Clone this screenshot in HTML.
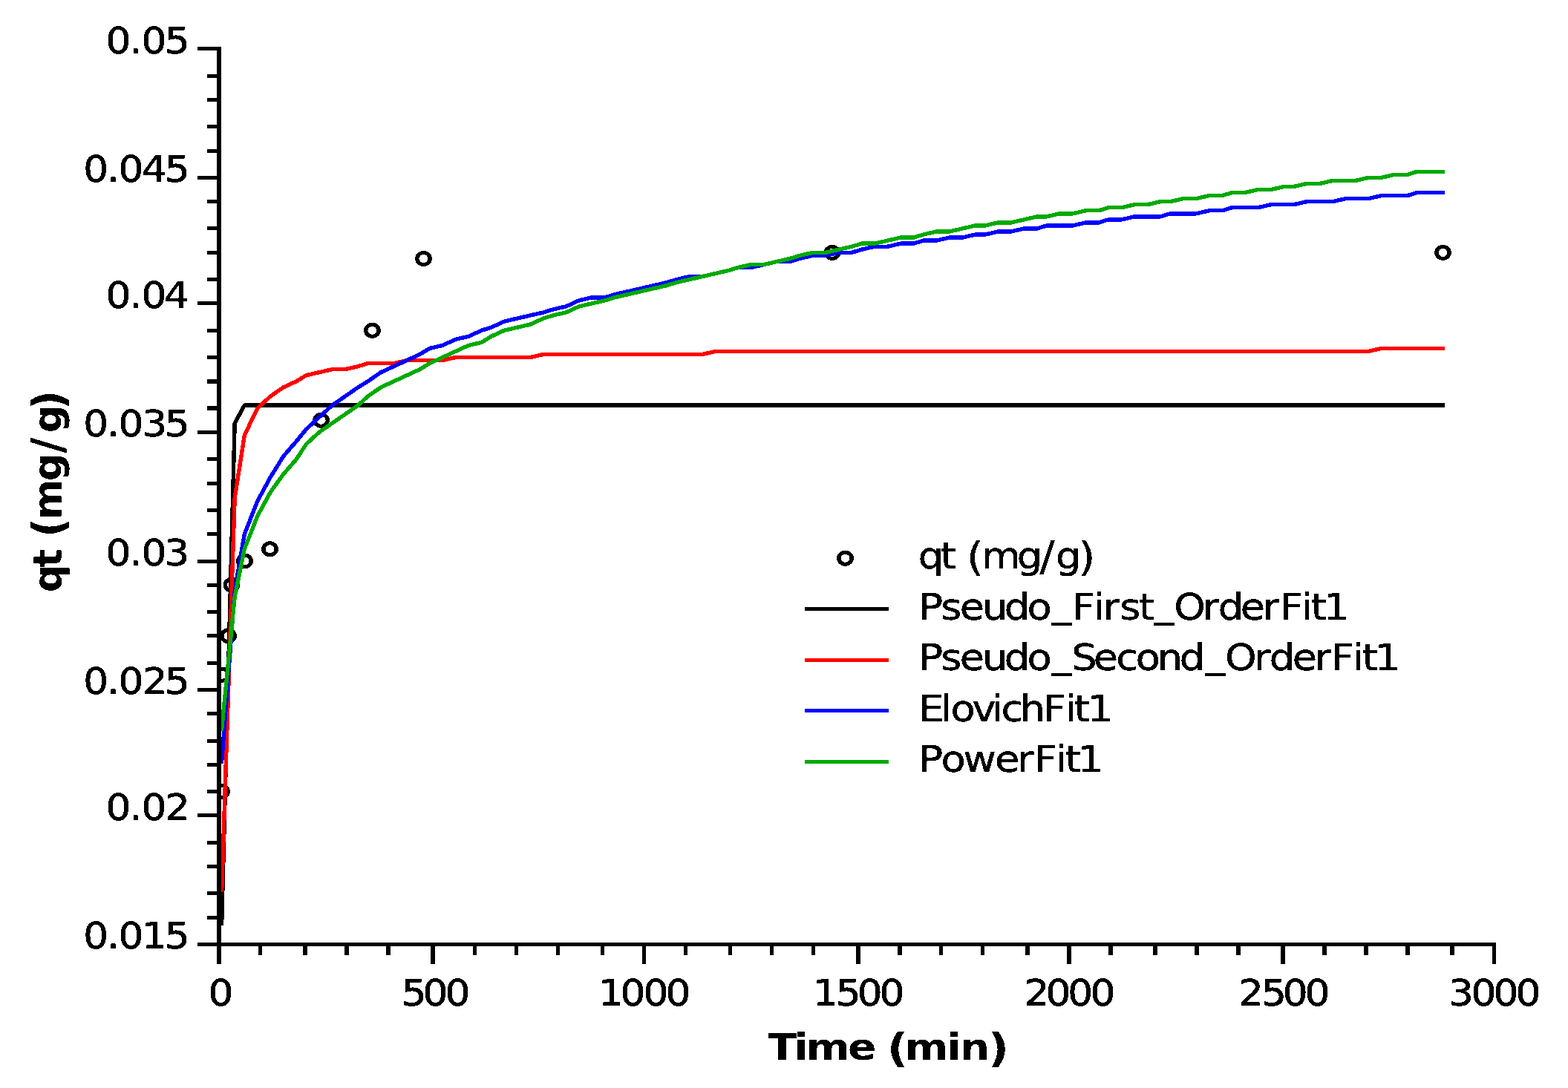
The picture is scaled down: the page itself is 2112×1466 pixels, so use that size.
<!DOCTYPE html>
<html lang="en"><head><meta charset="utf-8"><title>qt (mg/g) - Time (min)</title>
<style>html,body{margin:0;padding:0;background:#fff;overflow:hidden}svg{display:block}text{font-family:"DejaVu Sans","Liberation Sans",sans-serif;font-size:49.7px;fill:#000;white-space:pre}.b{font-weight:bold}.s{shape-rendering:crispEdges}</style></head><body>
<svg width="2112" height="1466" viewBox="0 0 2112 1466">
<rect width="2112" height="1466" fill="#fff"/>
<defs><filter id="al" x="0" y="0" width="100%" height="100%" filterUnits="objectBoundingBox" color-interpolation-filters="sRGB"><feComponentTransfer><feFuncA type="discrete" tableValues="0 1"/></feComponentTransfer></filter></defs>
<defs><clipPath id="cp"><rect x="296" y="0" width="2112" height="1275"/></clipPath></defs>
<g clip-path="url(#cp)">
<g class="s" transform="scale(1.09,1)" fill="none" stroke="#000" stroke-width="5.0">
<circle cx="273.85" cy="1066.50" r="8.0"/>
<circle cx="274.59" cy="909.20" r="8.0"/>
<circle cx="282.11" cy="856.80" r="8.0"/>
<circle cx="286.24" cy="788.20" r="8.0"/>
<circle cx="302.34" cy="755.90" r="8.0"/>
<circle cx="333.49" cy="739.80" r="8.0"/>
<circle cx="396.88" cy="566.30" r="8.0"/>
<circle cx="460.00" cy="445.30" r="8.0"/>
<circle cx="523.39" cy="348.50" r="8.0"/>
<circle cx="1028.44" cy="340.40" r="8.0"/>
<circle cx="1783.03" cy="340.40" r="8.0"/>
</g>
<g class="s" fill="none" stroke-width="5.4" stroke-linecap="square" stroke-linejoin="bevel">
<polyline points="298.68,1244.12 316.18,570.27 329.30,546.07 346.80,546.07 364.30,546.07 381.80,546.07 399.30,546.07 412.43,546.07 429.93,546.07 447.43,546.07 464.93,546.07 482.43,546.07 495.55,546.07 513.05,546.07 530.55,546.07 548.05,546.07 565.55,546.07 578.67,546.07 596.17,546.07 613.67,546.07 631.17,546.07 648.67,546.07 661.80,546.07 679.30,546.07 696.80,546.07 714.30,546.07 731.80,546.07 744.92,546.07 762.42,546.07 779.92,546.07 797.42,546.07 814.92,546.07 828.05,546.07 845.55,546.07 863.05,546.07 880.55,546.07 898.05,546.07 911.17,546.07 928.67,546.07 946.17,546.07 963.67,546.07 981.17,546.07 994.30,546.07 1011.80,546.07 1029.30,546.07 1046.80,546.07 1064.30,546.07 1077.42,546.07 1094.92,546.07 1112.42,546.07 1129.92,546.07 1147.42,546.07 1160.55,546.07 1178.05,546.07 1195.55,546.07 1213.05,546.07 1230.55,546.07 1243.67,546.07 1261.17,546.07 1278.67,546.07 1296.17,546.07 1313.67,546.07 1326.80,546.07 1344.30,546.07 1361.80,546.07 1379.30,546.07 1396.80,546.07 1409.92,546.07 1427.42,546.07 1444.92,546.07 1462.42,546.07 1479.92,546.07 1493.05,546.07 1510.55,546.07 1528.05,546.07 1545.55,546.07 1563.05,546.07 1576.17,546.07 1593.67,546.07 1611.17,546.07 1628.67,546.07 1646.17,546.07 1659.30,546.07 1676.80,546.07 1694.30,546.07 1711.80,546.07 1729.30,546.07 1742.42,546.07 1759.92,546.07 1777.42,546.07 1794.92,546.07 1812.42,546.07 1825.55,546.07 1843.05,546.07 1860.55,546.07 1878.05,546.07 1895.55,546.07 1908.67,546.07 1926.17,546.07 1943.67,546.07" stroke="#000"/>
<polyline points="298.68,1199.74 316.18,671.15 329.30,586.41 346.80,550.10 364.30,533.96 381.80,521.86 399.30,513.78 412.43,505.72 429.93,501.68 447.43,497.64 464.93,497.64 482.43,493.61 495.55,489.58 513.05,489.58 530.55,489.58 548.05,485.54 565.55,485.54 578.67,485.54 596.17,485.54 613.67,481.50 631.17,481.50 648.67,481.50 661.80,481.50 679.30,481.50 696.80,481.50 714.30,481.50 731.80,477.47 744.92,477.47 762.42,477.47 779.92,477.47 797.42,477.47 814.92,477.47 828.05,477.47 845.55,477.47 863.05,477.47 880.55,477.47 898.05,477.47 911.17,477.47 928.67,477.47 946.17,477.47 963.67,473.44 981.17,473.44 994.30,473.44 1011.80,473.44 1029.30,473.44 1046.80,473.44 1064.30,473.44 1077.42,473.44 1094.92,473.44 1112.42,473.44 1129.92,473.44 1147.42,473.44 1160.55,473.44 1178.05,473.44 1195.55,473.44 1213.05,473.44 1230.55,473.44 1243.67,473.44 1261.17,473.44 1278.67,473.44 1296.17,473.44 1313.67,473.44 1326.80,473.44 1344.30,473.44 1361.80,473.44 1379.30,473.44 1396.80,473.44 1409.92,473.44 1427.42,473.44 1444.92,473.44 1462.42,473.44 1479.92,473.44 1493.05,473.44 1510.55,473.44 1528.05,473.44 1545.55,473.44 1563.05,473.44 1576.17,473.44 1593.67,473.44 1611.17,473.44 1628.67,473.44 1646.17,473.44 1659.30,473.44 1676.80,473.44 1694.30,473.44 1711.80,473.44 1729.30,473.44 1742.42,473.44 1759.92,473.44 1777.42,473.44 1794.92,473.44 1812.42,473.44 1825.55,473.44 1843.05,473.44 1860.55,469.40 1878.05,469.40 1895.55,469.40 1908.67,469.40 1926.17,469.40 1943.67,469.40" stroke="#f00"/>
<polyline points="298.68,1026.23 316.18,796.24 329.30,719.57 346.80,675.18 364.30,642.90 381.80,614.66 399.30,594.49 412.43,578.35 429.93,562.21 447.43,546.07 464.93,533.96 482.43,521.86 495.55,513.78 513.05,501.68 530.55,493.61 548.05,485.54 565.55,477.47 578.67,469.40 596.17,465.37 613.67,457.30 631.17,453.26 648.67,445.19 661.80,441.15 679.30,433.09 696.80,429.05 714.30,425.01 731.80,420.98 744.92,416.95 762.42,412.91 779.92,404.84 797.42,400.81 814.92,400.81 828.05,396.77 845.55,392.74 863.05,388.70 880.55,384.66 898.05,380.63 911.17,376.60 928.67,372.56 946.17,372.56 963.67,368.52 981.17,364.49 994.30,360.46 1011.80,360.46 1029.30,356.42 1046.80,352.38 1064.30,352.38 1077.42,348.35 1094.92,344.32 1112.42,344.32 1129.92,340.28 1147.42,340.28 1160.55,336.25 1178.05,332.21 1195.55,332.21 1213.05,328.18 1230.55,328.18 1243.67,324.14 1261.17,324.14 1278.67,320.11 1296.17,320.11 1313.67,316.07 1326.80,316.07 1344.30,312.04 1361.80,312.04 1379.30,308.00 1396.80,308.00 1409.92,303.97 1427.42,303.97 1444.92,303.97 1462.42,299.93 1479.92,299.93 1493.05,295.89 1510.55,295.89 1528.05,291.86 1545.55,291.86 1563.05,291.86 1576.17,287.83 1593.67,287.83 1611.17,287.83 1628.67,283.79 1646.17,283.79 1659.30,279.75 1676.80,279.75 1694.30,279.75 1711.80,275.72 1729.30,275.72 1742.42,275.72 1759.92,271.69 1777.42,271.69 1794.92,271.69 1812.42,267.65 1825.55,267.65 1843.05,267.65 1860.55,263.62 1878.05,263.62 1895.55,263.62 1908.67,259.58 1926.17,259.58 1943.67,259.58" stroke="#00f"/>
<polyline points="298.68,981.85 316.18,804.30 329.30,739.75 346.80,695.36 364.30,663.08 381.80,638.87 399.30,618.70 412.43,598.52 429.93,582.38 447.43,570.27 464.93,558.17 482.43,546.07 495.55,533.96 513.05,521.86 530.55,513.78 548.05,505.72 565.55,497.64 578.67,489.58 596.17,481.50 613.67,473.44 631.17,465.37 648.67,461.33 661.80,453.26 679.30,445.19 696.80,441.15 714.30,437.12 731.80,429.05 744.92,425.01 762.42,420.98 779.92,412.91 797.42,408.88 814.92,404.84 828.05,400.81 845.55,396.77 863.05,392.74 880.55,388.70 898.05,384.66 911.17,380.63 928.67,376.60 946.17,372.56 963.67,368.52 981.17,364.49 994.30,360.46 1011.80,356.42 1029.30,356.42 1046.80,352.38 1064.30,348.35 1077.42,344.32 1094.92,340.28 1112.42,340.28 1129.92,336.25 1147.42,332.21 1160.55,328.18 1178.05,328.18 1195.55,324.14 1213.05,320.11 1230.55,320.11 1243.67,316.07 1261.17,312.04 1278.67,312.04 1296.17,308.00 1313.67,303.97 1326.80,303.97 1344.30,299.93 1361.80,299.93 1379.30,295.89 1396.80,291.86 1409.92,291.86 1427.42,287.83 1444.92,287.83 1462.42,283.79 1479.92,283.79 1493.05,279.75 1510.55,279.75 1528.05,275.72 1545.55,275.72 1563.05,271.69 1576.17,271.69 1593.67,267.65 1611.17,267.65 1628.67,263.62 1646.17,263.62 1659.30,259.58 1676.80,259.58 1694.30,255.55 1711.80,255.55 1729.30,251.51 1742.42,251.51 1759.92,247.48 1777.42,247.48 1794.92,243.44 1812.42,243.44 1825.55,243.44 1843.05,239.41 1860.55,239.41 1878.05,235.37 1895.55,235.37 1908.67,231.34 1926.17,231.34 1943.67,231.34" stroke="#00aa00"/>
</g></g>
<g class="s" fill="#000">
<rect x="292" y="63" width="6" height="1236"/>
<rect x="266" y="1270" width="1749" height="5"/>
<rect x="266" y="63" width="26" height="5"/>
<rect x="279" y="100" width="13" height="5"/>
<rect x="279" y="132" width="13" height="5"/>
<rect x="279" y="168" width="13" height="5"/>
<rect x="279" y="201" width="13" height="5"/>
<rect x="266" y="237" width="26" height="5"/>
<rect x="279" y="269" width="13" height="5"/>
<rect x="279" y="305" width="13" height="5"/>
<rect x="279" y="338" width="13" height="5"/>
<rect x="279" y="374" width="13" height="5"/>
<rect x="266" y="406" width="26" height="5"/>
<rect x="279" y="443" width="13" height="5"/>
<rect x="279" y="479" width="13" height="5"/>
<rect x="279" y="511" width="13" height="6"/>
<rect x="279" y="547" width="13" height="6"/>
<rect x="266" y="580" width="26" height="5"/>
<rect x="279" y="616" width="13" height="5"/>
<rect x="279" y="649" width="13" height="5"/>
<rect x="279" y="685" width="13" height="5"/>
<rect x="279" y="717" width="13" height="5"/>
<rect x="266" y="754" width="26" height="5"/>
<rect x="279" y="786" width="13" height="5"/>
<rect x="279" y="822" width="13" height="5"/>
<rect x="279" y="854" width="13" height="5"/>
<rect x="279" y="891" width="13" height="5"/>
<rect x="266" y="927" width="26" height="5"/>
<rect x="279" y="959" width="13" height="5"/>
<rect x="279" y="996" width="13" height="5"/>
<rect x="279" y="1028" width="13" height="5"/>
<rect x="279" y="1064" width="13" height="5"/>
<rect x="266" y="1096" width="26" height="5"/>
<rect x="279" y="1133" width="13" height="5"/>
<rect x="279" y="1165" width="13" height="5"/>
<rect x="279" y="1201" width="13" height="5"/>
<rect x="279" y="1234" width="13" height="5"/>
<rect x="348" y="1275" width="5" height="12"/>
<rect x="408" y="1275" width="6" height="12"/>
<rect x="464" y="1275" width="6" height="12"/>
<rect x="520" y="1275" width="6" height="12"/>
<rect x="580" y="1275" width="6" height="24"/>
<rect x="637" y="1275" width="5" height="12"/>
<rect x="693" y="1275" width="5" height="12"/>
<rect x="749" y="1275" width="5" height="12"/>
<rect x="809" y="1275" width="5" height="12"/>
<rect x="865" y="1275" width="5" height="24"/>
<rect x="921" y="1275" width="5" height="12"/>
<rect x="981" y="1275" width="5" height="12"/>
<rect x="1037" y="1275" width="5" height="12"/>
<rect x="1093" y="1275" width="5" height="12"/>
<rect x="1153" y="1275" width="6" height="24"/>
<rect x="1209" y="1275" width="6" height="12"/>
<rect x="1265" y="1275" width="5" height="12"/>
<rect x="1321" y="1275" width="5" height="12"/>
<rect x="1381" y="1275" width="6" height="12"/>
<rect x="1437" y="1275" width="6" height="24"/>
<rect x="1493" y="1275" width="6" height="12"/>
<rect x="1553" y="1275" width="6" height="12"/>
<rect x="1609" y="1275" width="6" height="12"/>
<rect x="1665" y="1275" width="6" height="12"/>
<rect x="1725" y="1275" width="6" height="24"/>
<rect x="1781" y="1275" width="6" height="12"/>
<rect x="1837" y="1275" width="6" height="12"/>
<rect x="1893" y="1275" width="6" height="12"/>
<rect x="1953" y="1275" width="6" height="12"/>
<rect x="2010" y="1275" width="5" height="24"/>
</g>
<g filter="url(#al)" stroke="#000" stroke-width="0.6" stroke-linejoin="round">
<text style="font-size:50.6px" transform="scale(1.055,1)" x="135.01 165.06 180.60 210.28" y="72.00">0.05</text>
<text style="font-size:50.6px" transform="scale(1.055,1)" x="106.47 136.53 151.21 180.91 210.28" y="245.00">0.045</text>
<text style="font-size:50.6px" transform="scale(1.055,1)" x="135.01 165.06 180.60 209.25" y="414.60">0.04</text>
<text style="font-size:50.6px" transform="scale(1.055,1)" x="106.47 136.53 151.21 181.21 210.28" y="588.00">0.035</text>
<text style="font-size:50.6px" transform="scale(1.055,1)" x="135.01 165.06 180.60 209.74" y="761.90">0.03</text>
<text style="font-size:50.6px" transform="scale(1.055,1)" x="106.47 136.53 151.21 181.79 210.28" y="934.90">0.025</text>
<text style="font-size:50.6px" transform="scale(1.055,1)" x="135.01 165.06 180.60 210.32" y="1104.90">0.02</text>
<text style="font-size:50.6px" transform="scale(1.055,1)" x="106.47 136.53 151.21 181.09 210.28" y="1277.90">0.015</text>
<text style="font-size:50.6px" transform="scale(1.055,1)" x="265.91" y="1354.90">0</text>
<text style="font-size:50.6px" transform="scale(1.055,1)" x="512.60 539.84 568.28" y="1354.90">500</text>
<text style="font-size:50.6px" transform="scale(1.055,1)" x="764.07 791.97 821.40 849.75" y="1354.90">1000</text>
<text style="font-size:50.6px" transform="scale(1.055,1)" x="1038.01 1067.05 1094.58 1122.87" y="1354.90">1500</text>
<text style="font-size:50.6px" transform="scale(1.055,1)" x="1307.71 1335.05 1363.39 1391.97" y="1354.90">2000</text>
<text style="font-size:50.6px" transform="scale(1.055,1)" x="1581.03 1610.32 1637.57 1665.91" y="1354.90">2500</text>
<text style="font-size:50.6px" transform="scale(1.055,1)" x="1849.41 1878.23 1906.71 1935.15" y="1354.90">3000</text>
</g>
<g class="s" transform="scale(1.09,1)" fill="none">
<circle cx="1044.50" cy="752.2" r="8.0" stroke="#000" stroke-width="5.0"/>
</g>
<g class="s">
<rect x="1084" y="818" width="113" height="5" fill="#000"/>
<rect x="1084" y="887" width="113" height="5" fill="#f00"/>
<rect x="1084" y="955" width="113" height="5" fill="#00f"/>
<rect x="1084" y="1024" width="113" height="5" fill="#00aa00"/>
</g>
<g filter="url(#al)" stroke="#000" stroke-width="0.4" stroke-linejoin="round">
<text transform="scale(1.09,1)" x="1134.65 1162.20 1172.35 1194.51 1212.76 1256.58 1284.92 1304.52 1332.53" y="766.30 766.30 766.30 769.30 766.30 766.30 768.30 766.30 769.30">qt <tspan font-size="53.9">(</tspan>mg<tspan font-size="54.7">/</tspan>g<tspan font-size="53.9">)</tspan></text>
<text transform="scale(1.09,1)" x="1135.26 1162.70 1185.95 1213.85 1241.17 1269.19 1299.55 1324.48 1351.34 1363.17 1383.66 1407.25 1426.15 1450.72 1486.01 1505.30 1532.78 1560.32 1581.55 1608.27 1620.05 1635.73" y="835.20 835.20 835.20 835.20 835.20 835.20 831.20 835.20 835.20 835.20 835.20 835.20 831.20 835.20 835.20 835.20 835.20 835.20 835.20 835.20 835.20 835.20">Pseudo_First_OrderFit1</text>
<text transform="scale(1.09,1)" x="1135.26 1162.70 1185.95 1213.85 1241.17 1269.19 1299.55 1324.11 1351.13 1379.21 1403.36 1429.98 1457.63 1489.46 1513.79 1549.59 1568.64 1597.05 1624.64 1644.76 1671.48 1683.26 1698.94" y="903.20 903.20 903.20 903.20 903.20 903.20 899.20 903.20 903.20 903.20 903.20 903.20 903.20 899.20 903.20 903.20 903.20 903.20 903.20 903.20 903.20 903.20 903.20">Pseudo_Second_OrderFit1</text>
<text transform="scale(1.09,1)" x="1135.42 1162.35 1174.69 1201.39 1225.70 1237.15 1260.25 1288.79 1316.39 1327.29 1343.89" y="972.10">ElovichFit1</text>
<text transform="scale(1.09,1)" x="1135.40 1162.86 1190.41 1229.30 1256.79 1277.78 1304.51 1316.28 1331.96" y="1040.00">PowerFit1</text>
</g>
<g filter="url(#al)">
<text class="b" transform="scale(1.14,1)" x="907.18 937.97 952.12 1001.70 1018.90 1048.09 1068.75 1118.68 1133.92 1167.57" y="1427.90 1427.90 1427.90 1427.90 1427.90 1430.90 1427.90 1427.90 1427.90 1430.90">Time <tspan font-size="53.9">(</tspan>min<tspan font-size="53.9">)</tspan></text>
<text class="b" transform="translate(82.1,796.0) rotate(-90) scale(1.05,1.087)" x="-2.06 30.08 43.32 68.57 91.20 140.75 176.64 202.80 232.60" y="0.00 0.00 0.00 2.76 0.00 0.00 1.84 0.00 2.76">qt <tspan font-size="53.9">(</tspan>mg<tspan font-size="54.7">/</tspan>g<tspan font-size="53.9">)</tspan></text>
</g>
</svg></body></html>
